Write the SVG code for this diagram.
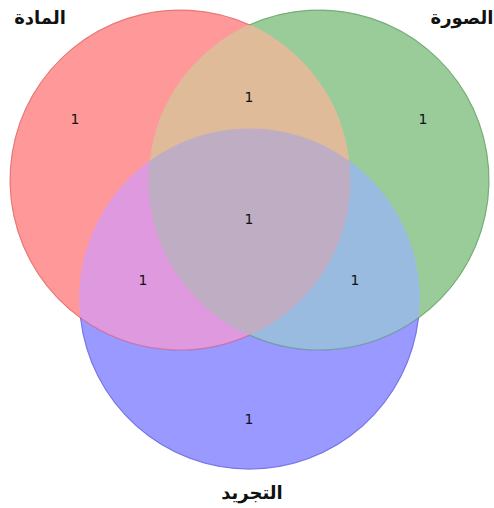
<svg xmlns="http://www.w3.org/2000/svg" width="494" height="508" viewBox="0 0 494 508">
<style>
.num{font-family:"DejaVu Sans",sans-serif;font-size:14px;fill:#111;text-anchor:middle}
.lbl{font-family:"DejaVu Sans",sans-serif;font-size:18px;font-weight:bold;fill:#111;text-anchor:middle}
.edge{fill:none;stroke-width:1.2;stroke-opacity:0.35}
.reg{stroke-width:1}
</style>
<rect width="494" height="508" fill="#fff"/>
<g id="regions">
<path id="r100" class="reg" fill="#FF9999" stroke="#FF9999" d="M249.5,24.9 A170,170 0 0 0 80.55,317.9 A170,170 0 0 1 150.05,161.1 A170,170 0 0 1 249.5,24.9 Z"/>
<path id="r010" class="reg" fill="#99CC99" stroke="#99CC99" d="M249.5,24.9 A170,170 0 0 1 418.45,317.9 A170,170 0 0 0 348.95,161.1 A170,170 0 0 0 249.5,24.9 Z"/>
<path id="r001" class="reg" fill="#9999FF" stroke="#9999FF" d="M80.55,317.9 A170,170 0 0 0 418.45,317.9 A170,170 0 0 1 249.5,335.1 A170,170 0 0 1 80.55,317.9 Z"/>
<path id="r110" class="reg" fill="#DFBB99" stroke="#DFBB99" d="M249.5,24.9 A170,170 0 0 1 348.95,161.1 A170,170 0 0 0 150.05,161.1 A170,170 0 0 1 249.5,24.9 Z"/>
<path id="r101" class="reg" fill="#DF99DF" stroke="#DF99DF" d="M80.55,317.9 A170,170 0 0 1 150.05,161.1 A170,170 0 0 0 249.5,335.1 A170,170 0 0 1 80.55,317.9 Z"/>
<path id="r011" class="reg" fill="#99BBDF" stroke="#99BBDF" d="M418.45,317.9 A170,170 0 0 0 348.95,161.1 A170,170 0 0 1 249.5,335.1 A170,170 0 0 0 418.45,317.9 Z"/>
<path id="r111" class="reg" fill="#BFADC4" stroke="#BFADC4" d="M150.05,161.1 A170,170 0 0 1 348.95,161.1 A170,170 0 0 1 249.5,335.1 A170,170 0 0 1 150.05,161.1 Z"/>
</g>
<g id="outlines">
<path class="edge" stroke="#C03030" d="M249.5,24.9 A170,170 0 0 0 80.55,317.9"/>
<path class="edge" stroke="#307030" d="M249.5,24.9 A170,170 0 0 1 418.45,317.9"/>
<path class="edge" stroke="#3030C0" d="M80.55,317.9 A170,170 0 0 0 418.45,317.9"/>
<path class="edge" stroke="#C03030" d="M80.55,317.9 A170,170 0 0 0 249.5,335.1"/>
<path class="edge" stroke="#307030" d="M418.45,317.9 A170,170 0 0 1 249.5,335.1"/>
</g>
<g id="counts">
<text class="num" x="75" y="124">1</text>
<text class="num" x="249" y="102">1</text>
<text class="num" x="423" y="124">1</text>
<text class="num" x="249" y="224">1</text>
<text class="num" x="143" y="285">1</text>
<text class="num" x="355" y="285">1</text>
<text class="num" x="249" y="424">1</text>
</g>
<g id="labels">
<text class="lbl" x="40" y="24">المادة</text>
<text class="lbl" x="462" y="24">الصورة</text>
<text class="lbl" x="252" y="499">التجريد</text>
</g>
</svg>
